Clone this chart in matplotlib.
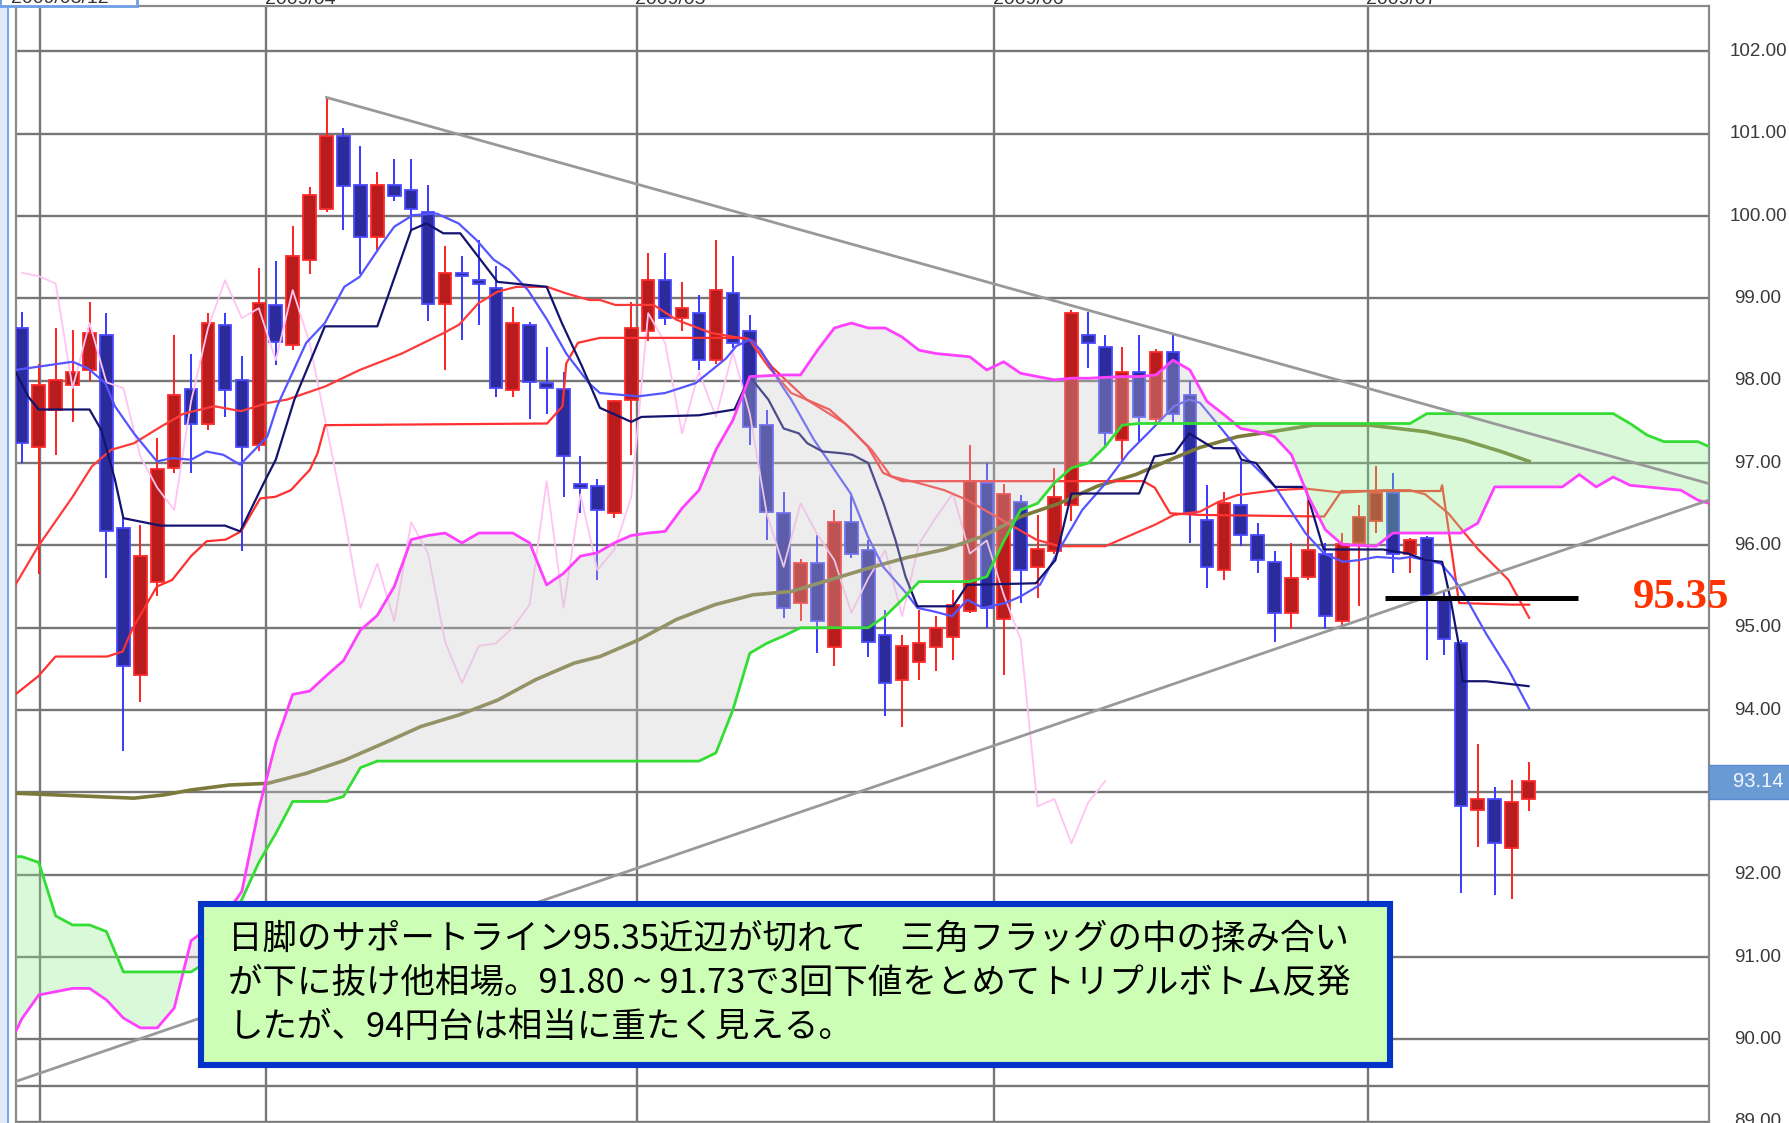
import numpy as np
import matplotlib.pyplot as plt
from matplotlib.patches import Rectangle
import matplotlib.transforms as mtransforms

plt.rcParams['font.family'] = ['Noto Sans CJK JP', 'DejaVu Sans']

# daily candles (USD/JPY)
opens = [98.64, 97.20, 97.65, 97.95, 98.13, 98.56, 96.21, 94.43, 95.55, 96.94,
         97.90, 97.48, 98.68, 98.01, 97.22, 98.92, 98.43, 99.47, 100.08, 100.97,
         100.38, 99.74, 100.38, 100.31, 100.05, 98.93, 99.31, 99.22, 99.13, 97.89,
         98.68, 97.97, 97.90, 96.74, 96.72, 96.39, 97.77, 98.60, 99.22, 98.76,
         98.82, 98.25, 99.07, 98.60, 97.46, 96.39, 95.30, 95.78, 94.76, 96.28,
         95.94, 94.91, 94.36, 94.58, 94.77, 94.89, 95.20, 96.76, 95.10, 96.53,
         95.74, 95.93, 96.49, 98.56, 98.41, 97.28, 98.11, 97.54, 98.35, 97.83,
         96.31, 95.70, 96.49, 96.12, 95.80, 95.18, 95.62, 95.90, 95.08, 96.03,
         96.29, 96.63, 95.90, 96.09, 95.34, 94.82, 92.79, 92.92, 92.33, 92.92]
highs = [98.83, 98.20, 98.64, 98.62, 98.96, 98.82, 96.33, 96.25, 97.30, 98.56,
         98.33, 98.82, 98.82, 98.30, 99.37, 99.45, 99.88, 100.35, 101.44, 101.07,
         100.85, 100.54, 100.69, 100.69, 100.38, 99.63, 99.51, 99.71, 99.39, 98.90,
         98.71, 98.41, 98.11, 97.08, 96.80, 97.77, 98.96, 99.55, 99.55, 99.20,
         99.04, 99.71, 99.52, 98.80, 97.65, 96.65, 95.84, 96.13, 96.43, 96.61,
         96.07, 95.22, 94.91, 95.22, 95.14, 95.46, 97.22, 97.00, 96.75, 96.61,
         96.37, 96.94, 98.86, 98.84, 98.56, 98.41, 98.56, 98.39, 98.56, 98.00,
         96.73, 96.65, 97.02, 96.27, 95.93, 96.03, 96.55, 96.03, 96.15, 96.49,
         96.96, 96.88, 96.09, 96.11, 95.44, 94.85, 93.59, 93.06, 93.15, 93.37]
lows = [97.00, 95.65, 97.10, 97.50, 98.00, 95.60, 93.50, 94.10, 95.38, 96.88,
        96.88, 97.40, 97.56, 95.93, 97.15, 98.19, 98.37, 99.30, 100.05, 99.83,
        99.29, 99.59, 100.18, 99.83, 98.72, 98.13, 98.50, 98.68, 97.80, 97.80,
        97.54, 97.60, 96.59, 96.39, 95.58, 96.33, 97.10, 98.48, 98.68, 98.60,
        98.13, 98.20, 98.40, 97.22, 96.07, 95.12, 95.08, 94.69, 94.53, 95.85,
        94.65, 93.93, 93.80, 94.37, 94.48, 94.61, 95.18, 95.00, 94.43, 95.30,
        95.36, 95.90, 96.30, 98.15, 97.20, 97.04, 97.26, 97.45, 97.50, 96.03,
        95.48, 95.58, 95.99, 95.66, 94.83, 94.98, 95.58, 94.99, 95.02, 95.26,
        96.15, 95.66, 95.66, 94.61, 94.67, 91.78, 92.34, 91.76, 91.70, 92.77]
closes = [97.24, 97.95, 98.01, 98.10, 98.58, 96.17, 94.53, 95.87, 96.93, 97.83,
          97.48, 98.70, 97.89, 97.20, 98.94, 98.47, 99.51, 100.26, 100.97, 100.36,
          99.74, 100.38, 100.24, 100.08, 98.93, 99.31, 99.27, 99.18, 97.91, 98.70,
          97.98, 97.91, 97.08, 96.70, 96.43, 97.75, 98.64, 99.22, 98.76, 98.88,
          98.25, 99.10, 98.46, 97.44, 96.41, 95.24, 95.78, 95.08, 96.28, 95.90,
          94.83, 94.33, 94.78, 94.81, 95.00, 95.28, 96.78, 95.24, 96.62, 95.70,
          95.95, 96.59, 98.82, 98.46, 97.36, 98.11, 97.56, 98.35, 97.60, 96.39,
          95.74, 96.51, 96.13, 95.82, 95.18, 95.60, 95.94, 95.14, 96.02, 96.34,
          96.63, 95.90, 96.06, 95.40, 94.86, 92.83, 92.92, 92.38, 92.88, 93.14]

# tenkan (navy, stepped)
tenkan_x = [-0.35, 0.4, 1, 4, 4.7, 5.5, 6, 8.2, 12, 12.9, 14.3, 15, 16.1, 17.9, 21, 23,
            23.9, 24.9, 25.9, 28.1, 31, 31.9, 33.1, 34.15, 36, 36.6, 40, 42.1, 43, 44.1,
            45, 45.9, 46.4, 47.3, 48.4, 49.07, 50, 50.9, 51.6, 52.2, 52.9, 55, 55.85,
            59.9, 61.05, 62, 66, 66.9, 68.1, 68.96, 69.6, 70.4, 71.7, 72.04, 72.9, 74.04,
            75.8, 76.9, 80.4, 81.9, 82.9, 83.9, 84.4, 84.9, 85.1, 86.5, 89]
tenkan_y = [98.10, 97.80, 97.65, 97.65, 97.40, 96.80, 96.33, 96.24, 96.24, 96.17, 96.76,
            97.04, 97.77, 98.66, 98.66, 99.83, 99.91, 99.79, 99.79, 99.20, 99.14, 98.70,
            98.17, 97.67, 97.50, 97.56, 97.58, 97.65, 98.05, 97.77, 97.42, 97.36, 97.24,
            97.14, 97.12, 97.10, 97.00, 96.51, 96.07, 95.62, 95.26, 95.26, 95.52, 95.54,
            95.82, 96.63, 96.63, 97.08, 97.12, 97.36, 97.28, 97.18, 97.18, 97.04, 97.00,
            96.71, 96.71, 95.95, 95.95, 95.90, 95.82, 95.80, 95.34, 94.77, 94.35, 94.35,
            94.29]

# short moving average (blue)
ma_blue_x = [-0.38, 0.97, 3.0, 3.91, 4.93, 5.5, 6.62, 7.98, 8.88, 10.0, 10.9, 11.9, 12.9,
             14.5, 15.1, 16.8, 17.9, 19.05, 19.95, 21.3, 22.0, 23.1, 24.5, 25.8, 26.85,
             27.87, 28.77, 29.9, 31.03, 32.16, 33.5, 34.15, 36.4, 38.0, 39.8, 41.6, 42.2,
             43.0, 43.65, 44.8, 45.45, 46.8, 48.96, 49.97, 50.88, 52.24, 52.91, 53.82,
             54.95, 55.85, 56.76, 58.1, 59.0, 60.14, 61.28, 62.64, 64.0, 65.35, 66.7,
             68.06, 68.96, 69.6, 70.93, 72.04, 74.04, 74.93, 75.82, 76.93, 78.04, 78.93,
             80.04, 81.38, 82.04, 82.93, 83.82, 84.49, 85.15, 86.49, 87.82, 89.04]
ma_blue_y = [98.13, 98.17, 98.23, 98.15, 97.97, 97.69, 97.36, 97.02, 97.06, 97.04, 97.14,
             97.10, 96.98, 97.32, 97.70, 98.46, 98.70, 99.14, 99.26, 99.67, 99.87, 100.01,
             100.03, 99.91, 99.71, 99.47, 99.35, 99.10, 98.74, 98.33, 97.97, 97.85, 97.81,
             97.85, 97.97, 98.27, 98.42, 98.50, 98.37, 97.97, 97.77, 97.28, 96.63, 96.11,
             95.74, 95.42, 95.24, 95.20, 95.14, 95.34, 95.24, 95.30, 95.38, 95.52, 95.95,
             96.43, 96.75, 97.12, 97.40, 97.69, 97.77, 97.73, 97.40, 97.12, 96.71, 96.43,
             96.15, 95.90, 95.80, 95.82, 95.86, 95.84, 95.86, 95.82, 95.78, 95.62, 95.42,
             94.93, 94.49, 94.02]

# kijun (red, stepped)
kijun_x = [-0.38, 0.97, 1.99, 5.04, 5.95, 6.5, 7.3, 7.98, 8.88, 10.0, 10.92, 12.05, 12.95,
           14.08, 14.98, 15.89, 17.02, 17.47, 17.92, 31.03, 31.94, 32.16, 32.85, 34.15,
           42.75, 43.2, 44.3, 46.36, 47.71, 48.85, 49.97, 50.88, 52.0, 66.25, 66.93, 67.83,
           69.6, 76.93, 77.95, 83.8, 83.9, 84.9, 88.04, 89.04]
kijun_y = [94.19, 94.41, 94.65, 94.65, 94.71, 94.97, 95.26, 95.50, 95.58, 95.87, 96.05,
           96.07, 96.17, 96.57, 96.59, 96.67, 96.92, 97.12, 97.46, 97.48, 97.69, 98.21,
           98.46, 98.52, 98.52, 98.48, 98.17, 97.77, 97.65, 97.44, 97.20, 96.88, 96.78,
           96.78, 96.70, 96.39, 96.37, 96.35, 96.66, 96.66, 96.73, 95.30, 95.28, 95.28]

# medium moving average (red, smooth)
ma_red_x = [-0.38, 0.97, 3.0, 4.14, 5.27, 6.62, 8.2, 9.56, 11.37, 12.95, 14.53, 15.66,
            17.92, 19.96, 22.45, 24.93, 25.83, 26.97, 28.1, 29.22, 31.03, 32.16, 33.52,
            34.15, 35.06, 37.32, 38.67, 40.71, 42.97, 44.1, 45.45, 46.36, 48.62, 50.2,
            51.34, 52.91, 54.5, 55.85, 57.21, 58.56, 59.92, 61.28, 64.0, 65.8, 66.93,
            68.06, 69.6, 70.7, 71.8, 74.04, 75.8, 78.0, 80.4, 82.0, 82.9, 84.26, 86.03,
            87.82, 89.04]
ma_red_y = [95.52, 95.99, 96.59, 96.96, 97.16, 97.24, 97.44, 97.60, 97.69, 97.63, 97.73,
            97.77, 97.93, 98.13, 98.33, 98.58, 98.68, 98.94, 99.08, 99.14, 99.14, 99.06,
            98.98, 98.98, 98.92, 98.92, 98.74, 98.58, 98.50, 98.17, 97.85, 97.77, 97.48,
            97.16, 96.84, 96.76, 96.67, 96.55, 96.39, 96.23, 96.07, 95.99, 95.99, 96.15,
            96.25, 96.37, 96.41, 96.53, 96.61, 96.67, 96.69, 96.64, 96.67, 96.67, 96.62,
            96.39, 95.95, 95.58, 95.12]

# long moving average (olive)
ma_long_x = [-0.38, 6.62, 8.42, 10.01, 12.27, 14.53, 16.78, 19.06, 21.3, 23.57, 25.82,
             28.1, 30.36, 32.62, 34.15, 36.41, 38.67, 40.94, 43.2, 45.45, 47.71, 49.97,
             52.24, 54.5, 56.76, 59.02, 61.28, 63.54, 65.8, 68.06, 69.6, 71.82, 73.82,
             76.26, 79.6, 82.93, 85.15, 87.38, 89.04]
ma_long_y = [92.99, 92.93, 92.97, 93.03, 93.09, 93.11, 93.23, 93.39, 93.59, 93.80, 93.94,
             94.12, 94.37, 94.57, 94.65, 94.85, 95.10, 95.28, 95.40, 95.44, 95.58, 95.72,
             95.85, 95.95, 96.11, 96.35, 96.51, 96.72, 96.86, 97.06, 97.19, 97.32, 97.38,
             97.46, 97.46, 97.38, 97.28, 97.14, 97.02]

# senkou spans on a common grid (magenta = A, green = B)
span_x = [-0.35] + list(range(0, 100)) + [99.66]
span_a = [90.10, 90.25, 90.54, 90.58, 90.62, 90.62, 90.48, 90.26, 90.14, 90.14, 90.38,
          91.20, 91.35, 91.50, 91.80, 92.80, 93.60, 94.19, 94.23, 94.42, 94.60, 94.97,
          95.15, 95.50, 96.07, 96.12, 96.15, 96.03, 96.15, 96.15, 96.15, 96.03, 95.52,
          95.66, 95.87, 95.91, 96.03, 96.12, 96.15, 96.17, 96.45, 96.67, 97.16, 97.52,
          98.05, 98.06, 98.07, 98.07, 98.37, 98.64, 98.70, 98.64, 98.64, 98.53, 98.37,
          98.33, 98.31, 98.29, 98.13, 98.23, 98.09, 98.05, 98.01, 98.03, 98.03, 98.04,
          98.05, 98.05, 98.07, 98.25, 98.13, 97.75, 97.59, 97.42, 97.38, 97.32, 97.10,
          96.59, 96.19, 96.01, 96.00, 95.99, 96.15, 96.15, 96.15, 96.15, 96.15, 96.27,
          96.71, 96.71, 96.71, 96.71, 96.71, 96.86, 96.71, 96.83, 96.73, 96.71, 96.69,
          96.67, 96.55, 96.51]
span_b = [92.22, 92.22, 92.15, 91.50, 91.39, 91.39, 91.31, 90.82, 90.82, 90.82, 90.82,
          90.82, 90.95, 91.30, 91.70, 92.15, 92.50, 92.89, 92.89, 92.89, 92.95, 93.30,
          93.38, 93.38, 93.38, 93.38, 93.38, 93.38, 93.38, 93.38, 93.38, 93.38, 93.38,
          93.38, 93.38, 93.38, 93.38, 93.38, 93.38, 93.38, 93.38, 93.38, 93.48, 94.00,
          94.69, 94.81, 94.90, 95.00, 95.00, 95.00, 95.00, 95.00, 95.14, 95.34, 95.56,
          95.56, 95.56, 95.56, 95.62, 96.05, 96.43, 96.51, 96.76, 96.94, 97.00, 97.20,
          97.46, 97.48, 97.48, 97.48, 97.48, 97.48, 97.48, 97.48, 97.48, 97.48, 97.48,
          97.48, 97.48, 97.48, 97.48, 97.48, 97.48, 97.48, 97.60, 97.60, 97.60, 97.60,
          97.60, 97.60, 97.60, 97.60, 97.60, 97.60, 97.60, 97.60, 97.48, 97.34, 97.26,
          97.26, 97.26, 97.20]

# lagging span: closes drawn 25 bars back
chikou_x = list(range(0, 65))
chikou_y = closes[25:90]

# triangle trend lines and support
trend_up_x = [18, 99.66]
trend_up_y = [101.44, 96.75]
trend_dn_x = [-0.35, 99.66]
trend_dn_y = [89.49, 96.55]
support_x = [80.5, 91.9]
support_level = 95.36

month_x = [1.05, 14.45, 36.35, 57.45, 79.5]
month_lbl = ['', '2009/04', '2009/05', '2009/06', '2009/07']
price_ticks = list(range(89, 103))
last_price = 93.14

axis_font = ['Liberation Sans', 'DejaVu Sans']

fig = plt.figure(figsize=(17.9, 11.23), dpi=100)
ax = fig.add_axes([0.00893, 0.0, 0.9458, 0.99492])
ax.set_xlim(-0.344, 99.66)
ax.set_ylim(88.985, 102.554)
ax.set_xticks([])
ax.set_yticks([])
for s in ax.spines.values():
    s.set_color('#8a8a8a')
    s.set_linewidth(1.6)

for p in price_ticks:
    ax.axhline(p, color='#777777', lw=1.7, zorder=1)
ax.axhline(89.44, color='#777777', lw=1.7, zorder=1)
for m in month_x:
    ax.axvline(m, color='#777777', lw=1.7, zorder=1)

# candles
o = np.array(opens); h = np.array(highs); l = np.array(lows); c = np.array(closes)
idx = np.arange(len(o))
up = c >= o
for sel, face, edge, wick in [(up, '#b81c1c', '#ff2a2a', '#ff2020'),
                               (~up, '#2b2b9c', '#4a4aff', '#3838ff')]:
    ax.vlines(idx[sel], l[sel], h[sel], color=wick, lw=1.4, zorder=3)
    bot = np.minimum(o, c)[sel]
    hgt = np.maximum(np.abs(c - o)[sel], 0.03)
    ax.bar(idx[sel], hgt, bottom=bot, width=0.74, color=face, edgecolor=edge,
           linewidth=1.3, zorder=3.5)

# indicator lines
ax.plot(chikou_x, chikou_y, color='#ffc4f2', lw=1.3, zorder=4)
ax.plot(ma_long_x, ma_long_y, color='#7c7a3a', lw=2.6, zorder=4)
ax.plot(ma_red_x, ma_red_y, color='#ff3a3a', lw=1.6, zorder=4)
ax.plot(kijun_x, kijun_y, color='#ff3030', lw=1.6, zorder=4)
ax.plot(ma_blue_x, ma_blue_y, color='#5555ff', lw=1.6, zorder=4)
ax.plot(tenkan_x, tenkan_y, color='#14146e', lw=1.6, zorder=4)

# cloud
sa = np.array(span_a); sb = np.array(span_b)
ax.fill_between(span_x, sa, sb, where=sa >= sb, interpolate=True,
                color='#c8c8c8', alpha=0.32, lw=0, zorder=5)
ax.fill_between(span_x, sa, sb, where=sa < sb, interpolate=True,
                color='#8aee8a', alpha=0.32, lw=0, zorder=5)
ax.plot(span_x, span_a, color='#ff40ff', lw=2.0, zorder=6)
ax.plot(span_x, span_b, color='#33dd33', lw=2.0, zorder=6)

# trend lines
ax.plot(trend_up_x, trend_up_y, color='#999999', lw=2.0, zorder=7)
ax.plot(trend_dn_x, trend_dn_y, color='#999999', lw=2.0, zorder=7)
ax.plot(support_x, [support_level] * 2, color='black', lw=3.6, zorder=8,
        solid_capstyle='butt')
ax.text(98.0, support_level, '95.35', color='#ff3300', fontsize=31,
        fontweight='bold', family=['Liberation Serif', 'DejaVu Serif'],
        ha='center', va='center', clip_on=False, zorder=9)

# right price axis
tr = mtransforms.blended_transform_factory(ax.transAxes, ax.transData)
for p in price_ticks:
    if abs(p - last_price) < 0.5:
        continue
    ax.text(1.029, p, f'{p:.2f}', transform=tr, ha='center', va='center',
            fontsize=13.5, color='#3a3a3a', family=axis_font, clip_on=False)
fig.add_artist(Rectangle((0.9547, 0.2886), 0.0453, 0.0305, transform=fig.transFigure,
                         facecolor='#6a9ad4', edgecolor='#5a8ad0', lw=1, zorder=10))
fig.text(0.982, 0.3038, f'{last_price:.2f}', ha='center', va='center',
         fontsize=14.5, color='#f4f8ff', family=axis_font, zorder=12)

# month labels, cut off at the top of the picture
trx = mtransforms.blended_transform_factory(ax.transData, ax.transAxes)
for m, lbl in zip(month_x, month_lbl):
    ax.text(m - 0.1, 1.0055, lbl, transform=trx, ha='left', va='center', fontsize=14,
            color='#333333', family=axis_font, clip_on=False)

# left strip and date box
fig.add_artist(Rectangle((0, 0), 0.0038, 1, transform=fig.transFigure,
                         facecolor='#e2ebfb', edgecolor='none', zorder=10))
fig.add_artist(Rectangle((0.0038, 0), 0.0012, 1, transform=fig.transFigure,
                         facecolor='#78a6ea', edgecolor='none', zorder=10))
fig.add_artist(Rectangle((0.0, 0.9949), 0.0765, 0.02, transform=fig.transFigure,
                         facecolor='white', edgecolor='#6f9fe6', lw=2, zorder=11))
fig.text(0.006, 1.001, '2009/03/12', fontsize=14, color='#333333', va='center',
         family=axis_font, zorder=12)

# comment box
fig.add_artist(Rectangle((0.1122, 0.0518), 0.6646, 0.1433, transform=fig.transFigure,
                         facecolor='#ccffb5', edgecolor='#0433c8', lw=4.4, zorder=20))
lines = ['日脚のサポートライン95.35近辺が切れて　三角フラッグの中の揉み合い',
         'が下に抜け他相場。91.80 ~ 91.73で3回下値をとめてトリプルボトム反発',
         'したが、94円台は相当に重たく見える。']
for k, t in enumerate(lines):
    fig.text(0.1276, 0.1636 - k * 0.0392, t, fontsize=24.8, color='black',
             va='center', ha='left', zorder=21)

fig.savefig('out.png', dpi=100)
